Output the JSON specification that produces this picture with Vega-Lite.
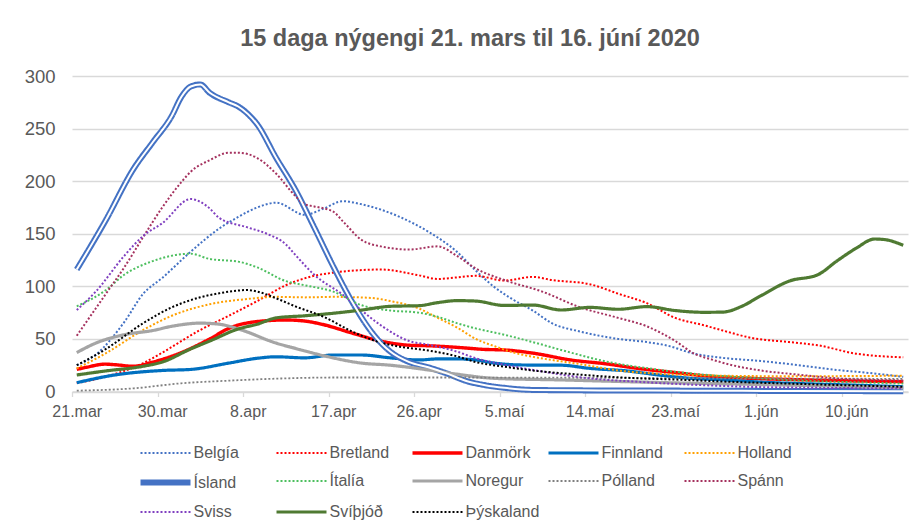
{
"$schema": "https://vega.github.io/schema/vega-lite/v6.json",
"width": 836,
"height": 315.5,
"autosize": "none",
"padding": {"left": 72, "top": 76, "right": 12, "bottom": 137.5},
"background": "white",
"title": {"text": "15 daga nýgengi 21. mars til 16. júní 2020", "font": "Liberation Sans", "fontSize": 23.5, "fontWeight": "bold", "color": "#595959", "anchor": "middle", "frame": "group", "dx": -20, "offset": -2, "baseline": "alphabetic"},
"config": {"view": {"stroke": null}, "font": "Liberation Sans"},
"data": {"values": [
{"c":"Belgía","t":"2020-03-21T12:00","v":25},{"c":"Belgía","t":"2020-03-23T12:00","v":35},{"c":"Belgía","t":"2020-03-26T12:00","v":66},{"c":"Belgía","t":"2020-03-28T12:00","v":93},{"c":"Belgía","t":"2020-03-30T12:00","v":108},{"c":"Belgía","t":"2020-04-02T12:00","v":133},{"c":"Belgía","t":"2020-04-05T12:00","v":155},{"c":"Belgía","t":"2020-04-07T12:00","v":166},{"c":"Belgía","t":"2020-04-09T12:00","v":175},{"c":"Belgía","t":"2020-04-11T12:00","v":179.5},{"c":"Belgía","t":"2020-04-14T12:00","v":168},{"c":"Belgía","t":"2020-04-16T12:00","v":174},{"c":"Belgía","t":"2020-04-18T12:00","v":181},{"c":"Belgía","t":"2020-04-20T12:00","v":178},{"c":"Belgía","t":"2020-04-24T12:00","v":166},{"c":"Belgía","t":"2020-04-27T12:00","v":152},{"c":"Belgía","t":"2020-04-30T12:00","v":133},{"c":"Belgía","t":"2020-05-02T12:00","v":115},{"c":"Belgía","t":"2020-05-04T12:00","v":99},{"c":"Belgía","t":"2020-05-06T12:00","v":87},{"c":"Belgía","t":"2020-05-08T12:00","v":77},{"c":"Belgía","t":"2020-05-10T12:00","v":65},{"c":"Belgía","t":"2020-05-13T12:00","v":57},{"c":"Belgía","t":"2020-05-17T12:00","v":50},{"c":"Belgía","t":"2020-05-20T12:00","v":47},{"c":"Belgía","t":"2020-05-22T12:00","v":44},{"c":"Belgía","t":"2020-05-25T12:00","v":36},{"c":"Belgía","t":"2020-05-28T12:00","v":32},{"c":"Belgía","t":"2020-06-01T12:00","v":29},{"c":"Belgía","t":"2020-06-05T12:00","v":25},{"c":"Belgía","t":"2020-06-09T12:00","v":20.5},{"c":"Belgía","t":"2020-06-12T12:00","v":18},{"c":"Belgía","t":"2020-06-16T12:00","v":14},
{"c":"Bretland","t":"2020-03-21T12:00","v":8},{"c":"Bretland","t":"2020-03-24T12:00","v":14},{"c":"Bretland","t":"2020-03-28T12:00","v":27},{"c":"Bretland","t":"2020-03-30T12:00","v":37},{"c":"Bretland","t":"2020-04-03T12:00","v":58.5},{"c":"Bretland","t":"2020-04-06T12:00","v":72},{"c":"Bretland","t":"2020-04-09T12:00","v":86},{"c":"Bretland","t":"2020-04-12T12:00","v":101},{"c":"Bretland","t":"2020-04-15T12:00","v":110},{"c":"Bretland","t":"2020-04-17T12:00","v":113},{"c":"Bretland","t":"2020-04-20T12:00","v":115.5},{"c":"Bretland","t":"2020-04-22T12:00","v":116},{"c":"Bretland","t":"2020-04-26T12:00","v":110.5},{"c":"Bretland","t":"2020-04-28T12:00","v":107},{"c":"Bretland","t":"2020-04-30T12:00","v":108.5},{"c":"Bretland","t":"2020-05-02T12:00","v":110},{"c":"Bretland","t":"2020-05-05T12:00","v":105.5},{"c":"Bretland","t":"2020-05-08T12:00","v":109},{"c":"Bretland","t":"2020-05-10T12:00","v":106},{"c":"Bretland","t":"2020-05-14T12:00","v":102},{"c":"Bretland","t":"2020-05-17T12:00","v":93},{"c":"Bretland","t":"2020-05-20T12:00","v":84},{"c":"Bretland","t":"2020-05-23T12:00","v":70},{"c":"Bretland","t":"2020-05-26T12:00","v":63},{"c":"Bretland","t":"2020-05-28T12:00","v":58},{"c":"Bretland","t":"2020-05-31T12:00","v":51},{"c":"Bretland","t":"2020-06-04T12:00","v":47},{"c":"Bretland","t":"2020-06-07T12:00","v":44},{"c":"Bretland","t":"2020-06-11T12:00","v":36},{"c":"Bretland","t":"2020-06-13T12:00","v":34},{"c":"Bretland","t":"2020-06-16T12:00","v":32.5},
{"c":"Danmörk","t":"2020-03-21T12:00","v":21},{"c":"Danmörk","t":"2020-03-22T12:00","v":23},{"c":"Danmörk","t":"2020-03-24T12:00","v":26},{"c":"Danmörk","t":"2020-03-25T12:00","v":25.5},{"c":"Danmörk","t":"2020-03-27T12:00","v":24},{"c":"Danmörk","t":"2020-03-29T12:00","v":28},{"c":"Danmörk","t":"2020-04-01T12:00","v":37},{"c":"Danmörk","t":"2020-04-04T12:00","v":50},{"c":"Danmörk","t":"2020-04-06T12:00","v":60},{"c":"Danmörk","t":"2020-04-09T12:00","v":66.5},{"c":"Danmörk","t":"2020-04-12T12:00","v":68},{"c":"Danmörk","t":"2020-04-14T12:00","v":67},{"c":"Danmörk","t":"2020-04-16T12:00","v":63.5},{"c":"Danmörk","t":"2020-04-19T12:00","v":55.5},{"c":"Danmörk","t":"2020-04-22T12:00","v":48},{"c":"Danmörk","t":"2020-04-25T12:00","v":44},{"c":"Danmörk","t":"2020-04-27T12:00","v":43.5},{"c":"Danmörk","t":"2020-04-30T12:00","v":42},{"c":"Danmörk","t":"2020-05-03T12:00","v":40},{"c":"Danmörk","t":"2020-05-05T12:00","v":39.5},{"c":"Danmörk","t":"2020-05-08T12:00","v":36.5},{"c":"Danmörk","t":"2020-05-12T12:00","v":30},{"c":"Danmörk","t":"2020-05-16T12:00","v":26},{"c":"Danmörk","t":"2020-05-19T12:00","v":22},{"c":"Danmörk","t":"2020-05-23T12:00","v":18},{"c":"Danmörk","t":"2020-05-26T12:00","v":15},{"c":"Danmörk","t":"2020-05-31T12:00","v":12.5},{"c":"Danmörk","t":"2020-06-06T12:00","v":11},{"c":"Danmörk","t":"2020-06-11T12:00","v":10},{"c":"Danmörk","t":"2020-06-16T12:00","v":9.3},
{"c":"Finnland","t":"2020-03-21T12:00","v":8.4},{"c":"Finnland","t":"2020-03-25T12:00","v":15.7},{"c":"Finnland","t":"2020-03-30T12:00","v":20},{"c":"Finnland","t":"2020-04-02T12:00","v":21},{"c":"Finnland","t":"2020-04-06T12:00","v":27},{"c":"Finnland","t":"2020-04-09T12:00","v":31.6},{"c":"Finnland","t":"2020-04-11T12:00","v":33},{"c":"Finnland","t":"2020-04-14T12:00","v":32},{"c":"Finnland","t":"2020-04-17T12:00","v":34.7},{"c":"Finnland","t":"2020-04-20T12:00","v":34.7},{"c":"Finnland","t":"2020-04-23T12:00","v":32},{"c":"Finnland","t":"2020-04-26T12:00","v":30},{"c":"Finnland","t":"2020-04-28T12:00","v":31},{"c":"Finnland","t":"2020-04-30T12:00","v":31},{"c":"Finnland","t":"2020-05-02T12:00","v":30},{"c":"Finnland","t":"2020-05-04T12:00","v":27},{"c":"Finnland","t":"2020-05-07T12:00","v":25.2},{"c":"Finnland","t":"2020-05-11T12:00","v":25},{"c":"Finnland","t":"2020-05-14T12:00","v":22},{"c":"Finnland","t":"2020-05-18T12:00","v":19.5},{"c":"Finnland","t":"2020-05-21T12:00","v":16},{"c":"Finnland","t":"2020-05-24T12:00","v":13},{"c":"Finnland","t":"2020-05-28T12:00","v":11},{"c":"Finnland","t":"2020-06-02T12:00","v":8.5},{"c":"Finnland","t":"2020-06-06T12:00","v":7.3},{"c":"Finnland","t":"2020-06-11T12:00","v":6},{"c":"Finnland","t":"2020-06-16T12:00","v":4.5},
{"c":"Holland","t":"2020-03-21T12:00","v":22},{"c":"Holland","t":"2020-03-24T12:00","v":36},{"c":"Holland","t":"2020-03-28T12:00","v":58.5},{"c":"Holland","t":"2020-03-31T12:00","v":72},{"c":"Holland","t":"2020-04-04T12:00","v":83},{"c":"Holland","t":"2020-04-08T12:00","v":88},{"c":"Holland","t":"2020-04-11T12:00","v":90},{"c":"Holland","t":"2020-04-14T12:00","v":89.5},{"c":"Holland","t":"2020-04-17T12:00","v":90},{"c":"Holland","t":"2020-04-21T12:00","v":89},{"c":"Holland","t":"2020-04-23T12:00","v":86},{"c":"Holland","t":"2020-04-26T12:00","v":79},{"c":"Holland","t":"2020-04-28T12:00","v":70},{"c":"Holland","t":"2020-04-30T12:00","v":61},{"c":"Holland","t":"2020-05-02T12:00","v":50},{"c":"Holland","t":"2020-05-04T12:00","v":43},{"c":"Holland","t":"2020-05-06T12:00","v":37},{"c":"Holland","t":"2020-05-08T12:00","v":33},{"c":"Holland","t":"2020-05-10T12:00","v":30},{"c":"Holland","t":"2020-05-13T12:00","v":26},{"c":"Holland","t":"2020-05-17T12:00","v":20},{"c":"Holland","t":"2020-05-22T12:00","v":16.5},{"c":"Holland","t":"2020-05-28T12:00","v":15},{"c":"Holland","t":"2020-06-04T12:00","v":14.5},{"c":"Holland","t":"2020-06-16T12:00","v":15},
{"c":"Ísland","t":"2020-03-21T12:00","v":116},{"c":"Ísland","t":"2020-03-24T12:00","v":162},{"c":"Ísland","t":"2020-03-27T12:00","v":212},{"c":"Ísland","t":"2020-03-29T12:00","v":237},{"c":"Ísland","t":"2020-03-31T12:00","v":262},{"c":"Ísland","t":"2020-04-01T12:00","v":280},{"c":"Ísland","t":"2020-04-02T12:00","v":290},{"c":"Ísland","t":"2020-04-03T12:00","v":292},{"c":"Ísland","t":"2020-04-04T12:00","v":284},{"c":"Ísland","t":"2020-04-06T12:00","v":275},{"c":"Ísland","t":"2020-04-07T12:00","v":271},{"c":"Ísland","t":"2020-04-08T12:00","v":264},{"c":"Ísland","t":"2020-04-09T12:00","v":254},{"c":"Ísland","t":"2020-04-11T12:00","v":222},{"c":"Ísland","t":"2020-04-13T12:00","v":192},{"c":"Ísland","t":"2020-04-15T12:00","v":156},{"c":"Ísland","t":"2020-04-17T12:00","v":119},{"c":"Ísland","t":"2020-04-19T12:00","v":85},{"c":"Ísland","t":"2020-04-21T12:00","v":57},{"c":"Ísland","t":"2020-04-23T12:00","v":38},{"c":"Ísland","t":"2020-04-25T12:00","v":28},{"c":"Ísland","t":"2020-04-27T12:00","v":23},{"c":"Ísland","t":"2020-04-29T12:00","v":17},{"c":"Ísland","t":"2020-05-01T12:00","v":10},{"c":"Ísland","t":"2020-05-03T12:00","v":6},{"c":"Ísland","t":"2020-05-05T12:00","v":3.5},{"c":"Ísland","t":"2020-05-08T12:00","v":1.5},{"c":"Ísland","t":"2020-05-15T12:00","v":1},{"c":"Ísland","t":"2020-05-25T12:00","v":0.8},{"c":"Ísland","t":"2020-06-04T12:00","v":0.5},{"c":"Ísland","t":"2020-06-16T12:00","v":0.3},
{"c":"Ítalía","t":"2020-03-21T12:00","v":81},{"c":"Ítalía","t":"2020-03-24T12:00","v":96},{"c":"Ítalía","t":"2020-03-26T12:00","v":111},{"c":"Ítalía","t":"2020-03-29T12:00","v":124},{"c":"Ítalía","t":"2020-04-02T12:00","v":131},{"c":"Ítalía","t":"2020-04-04T12:00","v":126},{"c":"Ítalía","t":"2020-04-07T12:00","v":123.5},{"c":"Ítalía","t":"2020-04-09T12:00","v":118},{"c":"Ítalía","t":"2020-04-12T12:00","v":105},{"c":"Ítalía","t":"2020-04-14T12:00","v":101},{"c":"Ítalía","t":"2020-04-17T12:00","v":95},{"c":"Ítalía","t":"2020-04-20T12:00","v":82},{"c":"Ítalía","t":"2020-04-23T12:00","v":77},{"c":"Ítalía","t":"2020-04-26T12:00","v":75},{"c":"Ítalía","t":"2020-04-28T12:00","v":71},{"c":"Ítalía","t":"2020-04-30T12:00","v":65},{"c":"Ítalía","t":"2020-05-02T12:00","v":60},{"c":"Ítalía","t":"2020-05-05T12:00","v":54},{"c":"Ítalía","t":"2020-05-08T12:00","v":47},{"c":"Ítalía","t":"2020-05-12T12:00","v":37},{"c":"Ítalía","t":"2020-05-16T12:00","v":28},{"c":"Ítalía","t":"2020-05-21T12:00","v":21},{"c":"Ítalía","t":"2020-05-26T12:00","v":16},{"c":"Ítalía","t":"2020-05-31T12:00","v":13},{"c":"Ítalía","t":"2020-06-06T12:00","v":10},{"c":"Ítalía","t":"2020-06-12T12:00","v":8.5},{"c":"Ítalía","t":"2020-06-16T12:00","v":7.5},
{"c":"Noregur","t":"2020-03-21T12:00","v":37},{"c":"Noregur","t":"2020-03-23T12:00","v":46},{"c":"Noregur","t":"2020-03-26T12:00","v":54},{"c":"Noregur","t":"2020-03-29T12:00","v":58},{"c":"Noregur","t":"2020-03-31T12:00","v":62},{"c":"Noregur","t":"2020-04-03T12:00","v":65},{"c":"Noregur","t":"2020-04-05T12:00","v":64},{"c":"Noregur","t":"2020-04-07T12:00","v":59.5},{"c":"Noregur","t":"2020-04-11T12:00","v":46},{"c":"Noregur","t":"2020-04-13T12:00","v":41},{"c":"Noregur","t":"2020-04-16T12:00","v":34},{"c":"Noregur","t":"2020-04-20T12:00","v":27},{"c":"Noregur","t":"2020-04-23T12:00","v":25},{"c":"Noregur","t":"2020-04-27T12:00","v":20.5},{"c":"Noregur","t":"2020-04-30T12:00","v":16.5},{"c":"Noregur","t":"2020-05-04T12:00","v":12.5},{"c":"Noregur","t":"2020-05-11T12:00","v":11},{"c":"Noregur","t":"2020-05-18T12:00","v":9.3},{"c":"Noregur","t":"2020-05-24T12:00","v":8},{"c":"Noregur","t":"2020-05-30T12:00","v":7},{"c":"Noregur","t":"2020-06-07T12:00","v":5.5},{"c":"Noregur","t":"2020-06-16T12:00","v":3.5},
{"c":"Pólland","t":"2020-03-21T12:00","v":0.8},{"c":"Pólland","t":"2020-03-27T12:00","v":3},{"c":"Pólland","t":"2020-04-01T12:00","v":7.8},{"c":"Pólland","t":"2020-04-06T12:00","v":10.3},{"c":"Pólland","t":"2020-04-12T12:00","v":12.5},{"c":"Pólland","t":"2020-04-17T12:00","v":13.3},{"c":"Pólland","t":"2020-04-30T12:00","v":13.3},{"c":"Pólland","t":"2020-05-15T12:00","v":13},{"c":"Pólland","t":"2020-05-30T12:00","v":12.5},{"c":"Pólland","t":"2020-06-16T12:00","v":12},
{"c":"Spánn","t":"2020-03-21T12:00","v":53},{"c":"Spánn","t":"2020-03-24T12:00","v":92},{"c":"Spánn","t":"2020-03-26T12:00","v":118},{"c":"Spánn","t":"2020-03-28T12:00","v":147},{"c":"Spánn","t":"2020-03-30T12:00","v":175},{"c":"Spánn","t":"2020-04-01T12:00","v":199},{"c":"Spánn","t":"2020-04-02T12:00","v":209},{"c":"Spánn","t":"2020-04-04T12:00","v":220},{"c":"Spánn","t":"2020-04-06T12:00","v":227},{"c":"Spánn","t":"2020-04-07T12:00","v":227},{"c":"Spánn","t":"2020-04-09T12:00","v":222},{"c":"Spánn","t":"2020-04-11T12:00","v":207},{"c":"Spánn","t":"2020-04-13T12:00","v":186},{"c":"Spánn","t":"2020-04-14T12:00","v":178},{"c":"Spánn","t":"2020-04-15T12:00","v":176},{"c":"Spánn","t":"2020-04-17T12:00","v":171},{"c":"Spánn","t":"2020-04-18T12:00","v":162},{"c":"Spánn","t":"2020-04-20T12:00","v":144},{"c":"Spánn","t":"2020-04-22T12:00","v":138},{"c":"Spánn","t":"2020-04-25T12:00","v":135},{"c":"Spánn","t":"2020-04-28T12:00","v":138},{"c":"Spánn","t":"2020-04-30T12:00","v":129},{"c":"Spánn","t":"2020-05-02T12:00","v":117},{"c":"Spánn","t":"2020-05-05T12:00","v":106},{"c":"Spánn","t":"2020-05-09T12:00","v":95},{"c":"Spánn","t":"2020-05-13T12:00","v":80},{"c":"Spánn","t":"2020-05-17T12:00","v":70},{"c":"Spánn","t":"2020-05-20T12:00","v":62},{"c":"Spánn","t":"2020-05-23T12:00","v":48},{"c":"Spánn","t":"2020-05-25T12:00","v":36},{"c":"Spánn","t":"2020-05-27T12:00","v":30},{"c":"Spánn","t":"2020-05-29T12:00","v":25},{"c":"Spánn","t":"2020-06-01T12:00","v":20},{"c":"Spánn","t":"2020-06-05T12:00","v":16},{"c":"Spánn","t":"2020-06-09T12:00","v":12.5},{"c":"Spánn","t":"2020-06-13T12:00","v":11},{"c":"Spánn","t":"2020-06-16T12:00","v":10.5},
{"c":"Sviss","t":"2020-03-21T12:00","v":77.5},{"c":"Sviss","t":"2020-03-23T12:00","v":95},{"c":"Sviss","t":"2020-03-26T12:00","v":129},{"c":"Sviss","t":"2020-03-28T12:00","v":148},{"c":"Sviss","t":"2020-03-30T12:00","v":160},{"c":"Sviss","t":"2020-04-02T12:00","v":183},{"c":"Sviss","t":"2020-04-04T12:00","v":174},{"c":"Sviss","t":"2020-04-05T12:00","v":165},{"c":"Sviss","t":"2020-04-08T12:00","v":156},{"c":"Sviss","t":"2020-04-10T12:00","v":150},{"c":"Sviss","t":"2020-04-12T12:00","v":140},{"c":"Sviss","t":"2020-04-13T12:00","v":130},{"c":"Sviss","t":"2020-04-15T12:00","v":111},{"c":"Sviss","t":"2020-04-18T12:00","v":92},{"c":"Sviss","t":"2020-04-20T12:00","v":77},{"c":"Sviss","t":"2020-04-22T12:00","v":63},{"c":"Sviss","t":"2020-04-25T12:00","v":48},{"c":"Sviss","t":"2020-04-27T12:00","v":44.5},{"c":"Sviss","t":"2020-04-30T12:00","v":38},{"c":"Sviss","t":"2020-05-02T12:00","v":31.6},{"c":"Sviss","t":"2020-05-05T12:00","v":25.5},{"c":"Sviss","t":"2020-05-09T12:00","v":19},{"c":"Sviss","t":"2020-05-14T12:00","v":12.5},{"c":"Sviss","t":"2020-05-19T12:00","v":9.3},{"c":"Sviss","t":"2020-05-26T12:00","v":6},{"c":"Sviss","t":"2020-06-02T12:00","v":4},{"c":"Sviss","t":"2020-06-16T12:00","v":3},
{"c":"Svíþjóð","t":"2020-03-21T12:00","v":15.7},{"c":"Svíþjóð","t":"2020-03-24T12:00","v":19.5},{"c":"Svíþjóð","t":"2020-03-28T12:00","v":24},{"c":"Svíþjóð","t":"2020-03-30T12:00","v":28},{"c":"Svíþjóð","t":"2020-04-02T12:00","v":40.5},{"c":"Svíþjóð","t":"2020-04-04T12:00","v":48},{"c":"Svíþjóð","t":"2020-04-07T12:00","v":59.5},{"c":"Svíþjóð","t":"2020-04-09T12:00","v":64},{"c":"Svíþjóð","t":"2020-04-11T12:00","v":70},{"c":"Svíþjóð","t":"2020-04-14T12:00","v":72},{"c":"Svíþjóð","t":"2020-04-17T12:00","v":74.4},{"c":"Svíþjóð","t":"2020-04-20T12:00","v":77.5},{"c":"Svíþjóð","t":"2020-04-23T12:00","v":81},{"c":"Svíþjóð","t":"2020-04-26T12:00","v":81.6},{"c":"Svíþjóð","t":"2020-04-28T12:00","v":84.5},{"c":"Svíþjóð","t":"2020-04-30T12:00","v":86.4},{"c":"Svíþjóð","t":"2020-05-02T12:00","v":86},{"c":"Svíþjóð","t":"2020-05-05T12:00","v":81.8},{"c":"Svíþjóð","t":"2020-05-08T12:00","v":82.2},{"c":"Svíþjóð","t":"2020-05-11T12:00","v":77.5},{"c":"Svíþjóð","t":"2020-05-14T12:00","v":80},{"c":"Svíþjóð","t":"2020-05-17T12:00","v":78.2},{"c":"Svíþjóð","t":"2020-05-20T12:00","v":80.7},{"c":"Svíþjóð","t":"2020-05-23T12:00","v":77},{"c":"Svíþjóð","t":"2020-05-26T12:00","v":75.3},{"c":"Svíþjóð","t":"2020-05-28T12:00","v":75.5},{"c":"Svíþjóð","t":"2020-05-30T12:00","v":81},{"c":"Svíþjóð","t":"2020-06-01T12:00","v":91},{"c":"Svíþjóð","t":"2020-06-04T12:00","v":105},{"c":"Svíþjóð","t":"2020-06-07T12:00","v":111},{"c":"Svíþjóð","t":"2020-06-09T12:00","v":124},{"c":"Svíþjóð","t":"2020-06-11T12:00","v":136},{"c":"Svíþjóð","t":"2020-06-13T12:00","v":145},{"c":"Svíþjóð","t":"2020-06-14T12:00","v":144.5},{"c":"Svíþjóð","t":"2020-06-16T12:00","v":139},
{"c":"Þýskaland","t":"2020-03-21T12:00","v":25},{"c":"Þýskaland","t":"2020-03-24T12:00","v":40},{"c":"Þýskaland","t":"2020-03-28T12:00","v":65},{"c":"Þýskaland","t":"2020-03-31T12:00","v":80},{"c":"Þýskaland","t":"2020-04-03T12:00","v":89.6},{"c":"Þýskaland","t":"2020-04-05T12:00","v":93.4},{"c":"Þýskaland","t":"2020-04-07T12:00","v":96},{"c":"Þýskaland","t":"2020-04-08T12:00","v":96.5},{"c":"Þýskaland","t":"2020-04-09T12:00","v":95},{"c":"Þýskaland","t":"2020-04-11T12:00","v":88.6},{"c":"Þýskaland","t":"2020-04-13T12:00","v":81},{"c":"Þýskaland","t":"2020-04-16T12:00","v":71},{"c":"Þýskaland","t":"2020-04-19T12:00","v":57},{"c":"Þýskaland","t":"2020-04-22T12:00","v":46.5},{"c":"Þýskaland","t":"2020-04-24T12:00","v":42.6},{"c":"Þýskaland","t":"2020-04-27T12:00","v":39},{"c":"Þýskaland","t":"2020-04-30T12:00","v":33.5},{"c":"Þýskaland","t":"2020-05-02T12:00","v":28},{"c":"Þýskaland","t":"2020-05-05T12:00","v":23.6},{"c":"Þýskaland","t":"2020-05-08T12:00","v":20},{"c":"Þýskaland","t":"2020-05-13T12:00","v":16},{"c":"Þýskaland","t":"2020-05-18T12:00","v":13},{"c":"Þýskaland","t":"2020-05-24T12:00","v":11},{"c":"Þýskaland","t":"2020-05-28T12:00","v":9.5},{"c":"Þýskaland","t":"2020-06-04T12:00","v":7.5},{"c":"Þýskaland","t":"2020-06-16T12:00","v":4.5}
]},
"encoding": {
  "x": {"field": "t", "type": "temporal",
    "scale": {"domain": [{"year": 2020, "month": 3, "date": 21}, {"year": 2020, "month": 6, "date": 17}]},
    "axis": {"title": null, "grid": false,
      "values": [{"year":2020,"month":3,"date":21},{"year":2020,"month":3,"date":30},{"year":2020,"month":4,"date":8},{"year":2020,"month":4,"date":17},{"year":2020,"month":4,"date":26},{"year":2020,"month":5,"date":5},{"year":2020,"month":5,"date":14},{"year":2020,"month":5,"date":23},{"year":2020,"month":6,"date":1},{"year":2020,"month":6,"date":10}],
      "labelExpr": "date(datum.value) + '.' + ['jan','feb','mar','apr','maí','jún','júl','ágú','sep','okt','nóv','des'][month(datum.value)]",
      "labelOffset": 4.75, "labelFontSize": 16, "labelColor": "#595959", "labelFont": "Liberation Sans", "labelPadding": 7,
      "domainColor": "#D9D9D9", "domainWidth": 1.3, "tickColor": "#D9D9D9", "tickWidth": 1.3, "tickSize": 5, "labelFlush": false, "labelOverlap": false}},
  "y": {"field": "v", "type": "quantitative",
    "scale": {"domain": [0, 300]},
    "axis": {"title": null, "values": [0, 50, 100, 150, 200, 250, 300], "domain": false, "ticks": false,
      "gridColor": "#D9D9D9", "gridWidth": 1.5, "labelFontSize": 18.5, "labelColor": "#595959", "labelFont": "Liberation Sans", "labelPadding": 17}}
},
"layer": [
  {"mark": {"type": "line", "interpolate": "monotone"},
   "encoding": {
     "color": {"field": "c", "type": "nominal",
       "scale": {"domain": ["Belgía","Bretland","Danmörk","Finnland","Holland","Ísland","Ítalía","Noregur","Pólland","Spánn","Sviss","Svíþjóð","Þýskaland"],
                 "range": ["#4472C4","#FF0000","#FF0000","#0070C0","#FFA000","#4472C4","#4DBF5F","#A5A5A5","#808080","#A5325F","#8040C0","#4F7A32","#000000"]},
       "legend": {"title": null, "orient": "none", "direction": "horizontal", "legendX": 70, "legendY": 366, "columns": 5, "symbolType": "M-4,0H4", "symbolSize": 156.25, "symbolOffset": 14, "labelFontSize": 16, "labelColor": "#595959", "labelFont": "Liberation Sans", "labelOffset": 18.5, "gridAlign": "all", "columnPadding": 1, "rowPadding": 6, "padding": 0, "labelLimit": 200}},
     "strokeDash": {"field": "c", "type": "nominal",
       "scale": {"type": "ordinal", "domain": ["Belgía","Bretland","Danmörk","Finnland","Holland","Ísland","Ítalía","Noregur","Pólland","Spánn","Sviss","Svíþjóð","Þýskaland"],
                 "range": [[2,2],[2,2],[1,0],[1,0],[2,2],[1,0],[2,2],[1,0],[2,2],[2,2],[2,2],[1,0],[2,2]]},
       "legend": {"title": null}},
     "strokeWidth": {"field": "c", "type": "nominal",
       "scale": {"type": "ordinal", "domain": ["Belgía","Bretland","Danmörk","Finnland","Holland","Ísland","Ítalía","Noregur","Pólland","Spánn","Sviss","Svíþjóð","Þýskaland"],
                 "range": [2,2,3.4,3.2,2,6,2,3.2,1.8,2,2,3.2,2]},
       "legend": {"title": null}}
   }},
  {"transform": [{"filter": "datum.c === 'Ísland'"}],
   "mark": {"type": "line", "interpolate": "monotone", "color": "white", "strokeWidth": 2}}
]
}
